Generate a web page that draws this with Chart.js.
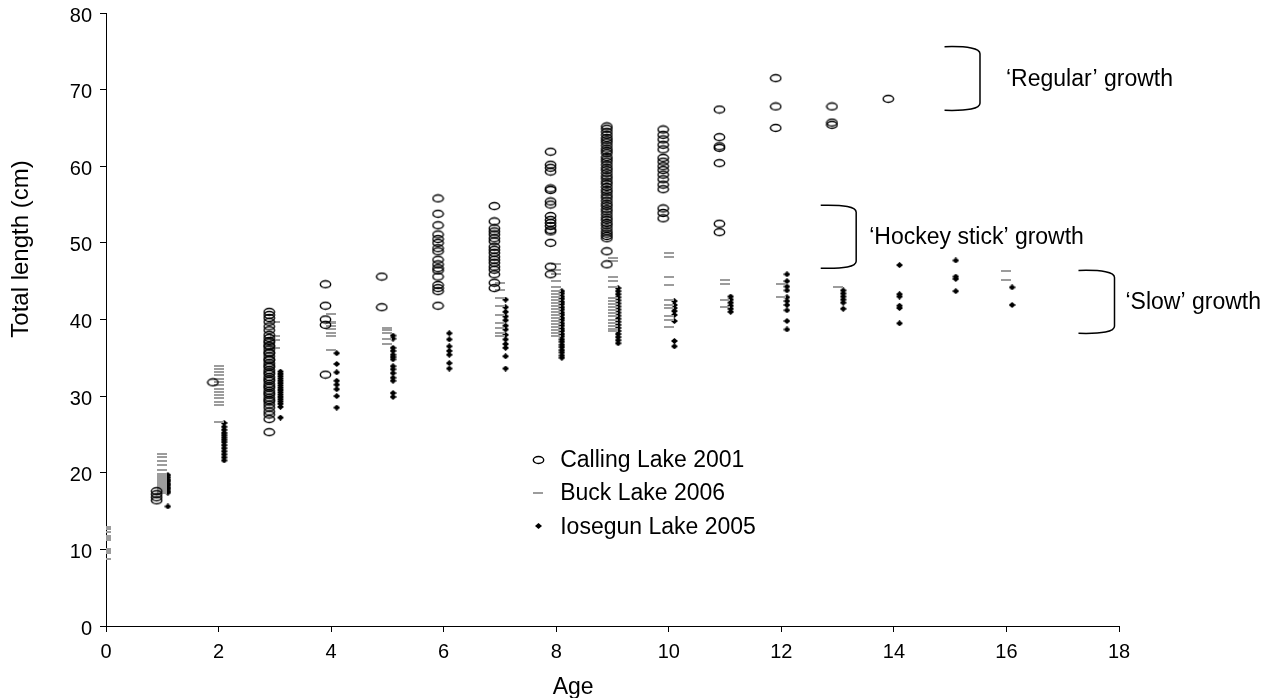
<!DOCTYPE html>
<html>
<head>
<meta charset="utf-8">
<script src="https://cdn.jsdelivr.net/npm/chart.js@4.4.1/dist/chart.umd.min.js"></script>
<style>
  html, body { margin: 0; background: #fff; }
</style>
</head>
<body>
<canvas id="growth" width="1275" height="698"></canvas>
<script>
// ages 0..16; one list of total lengths (cm) per age
const ages = [0, 1, 2, 3, 4, 5, 6, 7, 8, 9, 10, 11, 12, 13, 14, 15, 16];

const callingLake = [
  [],
  [17.6, 17.2, 16.8, 16.4],
  [31.8],
  [41.0, 40.6, 40.2, 39.7, 39.1, 38.6, 38.0, 37.6, 37.2, 37.0, 36.6, 36.5, 36.1, 35.7, 35.6, 35.2, 34.8,
   34.7, 34.3, 34.0, 33.8, 33.4, 33.1, 32.9, 32.5, 32.2, 32.0, 31.6, 31.3, 31.1, 30.7, 30.4, 30.2, 29.8,
   29.5, 29.3, 28.9, 28.5, 28.0, 27.6, 27.0, 25.3],
  [44.6, 41.8, 40.0, 39.3, 32.8],
  [45.6, 41.6],
  [55.8, 53.8, 52.3, 51.1, 50.5, 50.0, 49.3, 48.9, 47.8, 47.2, 46.7, 46.4, 45.6, 44.5, 44.1, 43.7, 41.8],
  [54.8, 52.8, 51.9, 51.5, 51.1, 50.6, 50.2, 49.5, 49.1, 48.7, 48.2, 47.8, 47.4, 46.9, 46.5, 45.9, 44.8, 44.1],
  [61.9, 60.2, 59.8, 59.3, 57.1, 56.9, 55.4, 55.0, 53.5, 53.0, 52.6, 52.2, 51.7, 51.5, 50.0, 46.9, 45.9],
  [65.2, 64.9, 64.5, 64.1, 63.7, 63.4, 63.1, 62.7, 62.3, 62.0, 61.7, 61.2, 60.9, 60.6, 60.2, 59.8, 59.5,
   59.1, 58.7, 58.4, 58.0, 57.7, 57.3, 56.9, 56.6, 56.2, 55.9, 55.5, 55.1, 54.8, 54.4, 54.1, 53.7, 53.3,
   53.0, 52.6, 52.3, 51.9, 51.5, 51.2, 50.9, 50.6, 48.9, 47.2],
  [64.8, 64.1, 63.5, 62.8, 62.2, 61.1, 60.6, 60.0, 59.5, 58.9, 58.3, 57.6, 57.0, 54.5, 53.9, 53.2],
  [67.4, 63.8, 62.6, 62.4, 60.4, 52.5, 51.4],
  [71.5, 67.8, 65.0],
  [67.8, 65.7, 65.4],
  [68.8],
  [],
  []
];

const buckLake = [
  [12.9, 12.6, 12.3, 11.8, 11.5, 11.2, 10.1, 9.8, 9.5, 8.8],
  [22.5, 22.0, 21.5, 21.0, 20.4, 19.8, 19.6, 19.4, 19.2, 19.0, 18.8, 18.6, 18.4, 18.2, 18.0, 17.8, 17.6, 17.4],
  [33.9, 33.5, 33.1, 32.7, 32.3, 31.8, 31.4, 30.9, 30.5, 30.1, 29.7, 29.2, 28.8, 26.6],
  [39.7, 37.8, 37.3, 36.3],
  [40.7, 39.7, 39.5, 39.1, 38.7, 38.3, 37.8, 36.0],
  [38.9, 38.6, 38.2, 37.5, 36.8],
  [],
  [44.8, 43.9, 42.8, 41.7, 40.6, 39.5, 38.9, 38.2, 37.8],
  [47.2, 46.5, 45.9, 45.0, 44.3, 43.7, 43.3, 43.0, 42.6, 42.2, 41.8, 41.4, 41.0, 40.6, 40.2, 39.8, 39.4,
   39.0, 38.6, 38.2, 37.8],
  [48.0, 47.6, 45.6, 45.0, 44.3, 42.8, 42.4, 42.0, 41.6, 41.2, 40.8, 40.4, 40.0, 39.6, 39.2, 38.8, 38.5],
  [48.7, 48.2, 45.6, 44.5, 42.6, 41.9, 41.5, 40.4, 40.0, 39.0],
  [45.1, 44.6, 42.6, 41.6],
  [44.6, 42.9],
  [44.2],
  [],
  [],
  [46.3, 45.1]
];

const iosegunLake = [
  [],
  [19.7, 19.4, 19.1, 18.9, 18.6, 18.4, 18.1, 17.9, 17.6, 17.4, 15.6],
  [26.5, 26.0, 25.6, 25.2, 24.9, 24.6, 24.3, 24.0, 23.6, 23.2, 22.8, 22.4, 22.0, 21.6],
  [33.2, 32.9, 32.6, 32.3, 32.0, 31.7, 31.4, 31.1, 30.8, 30.5, 30.2, 29.9, 29.6, 29.3, 29.0, 28.6, 27.2],
  [35.6, 34.2, 33.1, 32.0, 31.5, 30.9, 30.0, 28.5],
  [37.9, 37.5, 36.3, 35.9, 35.4, 35.1, 34.8, 33.9, 33.5, 33.0, 32.4, 32.0, 30.4, 29.9],
  [38.2, 37.4, 36.5, 35.9, 35.4, 34.3, 33.6],
  [42.6, 41.6, 41.0, 40.4, 39.9, 39.2, 38.7, 38.0, 37.4, 36.8, 36.3, 35.2, 33.6],
  [43.7, 43.4, 43.0, 42.7, 42.3, 42.0, 41.6, 41.3, 40.9, 40.6, 40.2, 39.9, 39.5, 39.2, 38.8, 38.5, 38.1,
   37.8, 37.4, 37.1, 36.7, 36.4, 36.0, 35.7, 35.3, 35.0],
  [44.1, 43.7, 43.3, 42.9, 42.5, 42.1, 41.7, 41.3, 40.9, 40.5, 40.1, 39.7, 39.3, 38.9, 38.5, 38.1, 37.7, 37.3, 36.9],
  [42.4, 41.9, 41.5, 41.1, 40.6, 39.8, 37.2, 36.5],
  [43.0, 42.6, 42.2, 41.8, 41.4, 41.0],
  [45.9, 45.0, 44.3, 43.8, 42.9, 42.4, 41.9, 41.2, 39.8, 38.7],
  [43.8, 43.4, 43.0, 42.6, 42.2, 41.4],
  [47.1, 43.3, 43.0, 41.8, 41.5, 39.5],
  [47.7, 45.6, 45.3, 43.7],
  [44.2, 41.9]
];

const seriesNames = ['Calling Lake 2001', 'Buck Lake 2006', 'Iosegun Lake 2005'];
const ageShift = [-0.1, 0, 0.1]; // small side-by-side offset per lake

const growthNotes = [
  { text: '\u2018Regular\u2019 growth', x1: 14.9, x2: 15.53, top: 75.6, bottom: 67.3, gap: 26 },
  { text: '\u2018Hockey stick\u2019 growth', x1: 12.7, x2: 13.33, top: 54.9, bottom: 46.7, gap: 13 },
  { text: '\u2018Slow\u2019 growth', x1: 17.28, x2: 17.92, top: 46.4, bottom: 38.2, gap: 11 }
];

const FONT = '"Liberation Sans", Arial, sans-serif';

// marker sprites
function makeEllipse() {
  const c = document.createElement('canvas');
  c.width = 13; c.height = 10;
  const g = c.getContext('2d');
  g.strokeStyle = '#000';
  g.lineWidth = 1.4;
  g.beginPath();
  g.ellipse(6.5, 5, 5.2, 3.5, 0, 0, Math.PI * 2);
  g.stroke();
  return c;
}
function makeDash() {
  const c = document.createElement('canvas');
  c.width = 10; c.height = 2;
  const g = c.getContext('2d');
  g.fillStyle = '#9c9c9c';
  g.fillRect(0, 0, 10, 2);
  return c;
}
function makeDiamond() {
  const c = document.createElement('canvas');
  c.width = 7; c.height = 6;
  const g = c.getContext('2d');
  g.fillStyle = '#000';
  g.beginPath();
  g.moveTo(3.5, 0); g.lineTo(7, 3); g.lineTo(3.5, 6); g.lineTo(0, 3);
  g.closePath();
  g.fill();
  return c;
}
const marks = [makeEllipse(), makeDash(), makeDiamond()];

function toPoints(lists, shift) {
  const pts = [];
  lists.forEach((vals, i) => {
    vals.forEach(v => pts.push({ x: ages[i] + shift, y: v }));
  });
  return pts;
}

const datasets = [callingLake, buckLake, iosegunLake].map((lists, k) => ({
  label: seriesNames[k],
  data: toPoints(lists, ageShift[k]),
  pointStyle: marks[k],
  showLine: false
}));

// legend inside the plot, bracket annotations, axis titles
const extras = {
  id: 'extras',
  afterDatasetsDraw(chart) {
    const ctx = chart.ctx;
    const xs = chart.scales.x, ys = chart.scales.y;
    ctx.save();
    ctx.fillStyle = '#000';
    ctx.textBaseline = 'middle';
    ctx.textAlign = 'left';

    // legend
    ctx.font = '23px ' + FONT;
    const legX = xs.getPixelForValue(7.68);
    seriesNames.forEach((name, k) => {
      const y = ys.getPixelForValue(21.7 - k * 4.35);
      const m = marks[k];
      ctx.drawImage(m, Math.round(legX - m.width / 2), Math.round(y - m.height / 2));
      ctx.fillText(name, legX + 22, y + 1);
    });

    // brackets
    ctx.strokeStyle = '#000';
    ctx.lineWidth = 1.5;
    growthNotes.forEach(n => {
      const x1 = xs.getPixelForValue(n.x1);
      const x2 = xs.getPixelForValue(n.x2);
      const yt = ys.getPixelForValue(n.top);
      const yb = ys.getPixelForValue(n.bottom);
      const r = 7;
      ctx.beginPath();
      ctx.moveTo(x1, yt);
      ctx.quadraticCurveTo(x2, yt - 1, x2, yt + r);
      ctx.lineTo(x2, yb - r);
      ctx.quadraticCurveTo(x2, yb + 1, x1, yb);
      ctx.stroke();
      ctx.fillText(n.text, x2 + n.gap, (yt + yb) / 2 + 1);
    });

    // axis titles (sit a little off-centre, as in the original)
    ctx.textAlign = 'center';
    ctx.font = '23px ' + FONT;
    ctx.fillText('Age', xs.getPixelForValue(8.3), 688);
    ctx.font = '24px ' + FONT;
    ctx.translate(21, ys.getPixelForValue(49.2));
    ctx.rotate(-Math.PI / 2);
    ctx.fillText('Total length (cm)', 0, 0);
    ctx.restore();
  }
};

Chart.defaults.font.family = FONT;
Chart.defaults.color = '#000';

new Chart(document.getElementById('growth'), {
  type: 'scatter',
  data: { datasets },
  options: {
    responsive: false,
    animation: false,
    layout: { padding: { top: 0, right: 156, bottom: 0, left: 0 } },
    plugins: { legend: { display: false }, tooltip: { enabled: false } },
    scales: {
      x: {
        type: 'linear',
        min: 0, max: 18,
        afterFit(scale) { scale.height = 72; },
        ticks: { stepSize: 2, font: { size: 20 }, padding: 8, maxRotation: 0 },
        grid: { display: true, drawOnChartArea: false, drawTicks: true, tickLength: 6, color: '#000' },
        border: { display: true, color: '#000', width: 1 }
      },
      y: {
        type: 'linear',
        min: 0, max: 80,
        afterFit(scale) { scale.width = 106; },
        ticks: { stepSize: 10, font: { size: 20, lineHeight: 0.5 }, padding: 8, labelOffset: 3 },
        grid: { display: true, drawOnChartArea: false, drawTicks: true, tickLength: 6, color: '#000' },
        border: { display: true, color: '#000', width: 1 }
      }
    }
  },
  plugins: [extras]
});
</script>
</body>
</html>
